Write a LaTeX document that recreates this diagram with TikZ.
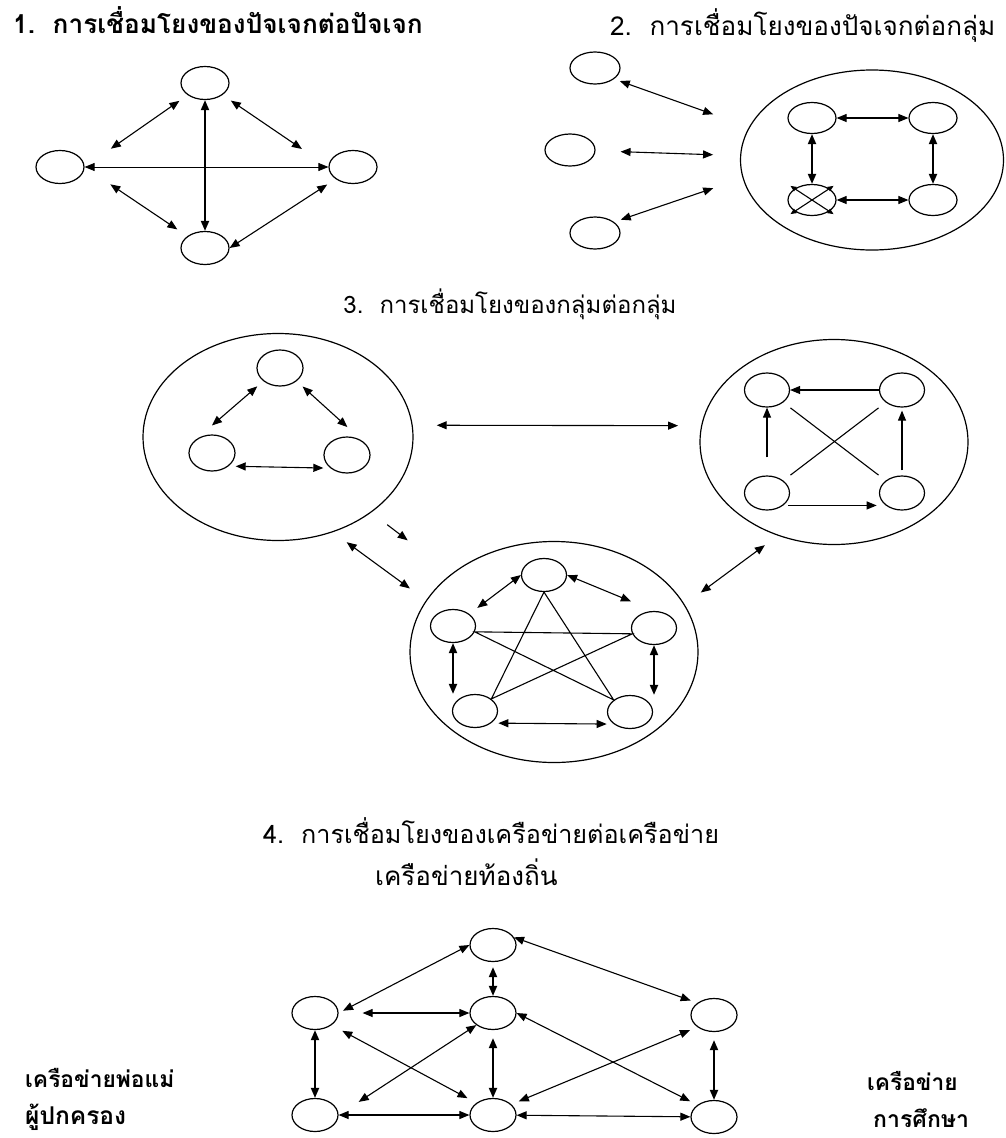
\documentclass[tikz,border=0pt]{standalone}
\usepackage{fontspec}
\newfontfamily\thaifont[Script=Thai]{Loma}
\usepackage{tikz}
\usetikzlibrary{arrows.meta}
\usetikzlibrary{shapes.geometric}

\begin{document}
\begin{tikzpicture}[x=1pt,y=-1pt]
\tikzstyle{every node}=[font=\thaifont\fontsize{24}{28}\selectfont, inner sep=0pt]
\tikzstyle{bubble}=[draw, ellipse, line width=1.2pt, minimum width=46pt, minimum height=33pt]
\tikzstyle{group}=[draw, ellipse, line width=1.2pt]
\tikzstyle{link}=[line width=1.1pt, <->, >={Triangle[length=10pt,width=8pt]}]
\tikzstyle{heavy}=[line width=1.9pt, <->, >={Triangle[length=10pt,width=8pt]}]
\tikzstyle{oneway}=[line width=1.1pt, ->, >={Triangle[length=10pt,width=8pt]}]
\useasboundingbox (0,0) rectangle (1005,1138);

\node[anchor=base west, font=\thaifont\fontsize{26.2}{30}\selectfont] (t1) at (13,33) {\bfseries 1.\ \ การเชื่อมโยงของปัจเจกต่อปัจเจก};
\node[bubble, minimum width=48pt] (p1t) at (205,83) {};
\node[bubble, minimum width=48pt] (p1l) at (60,167) {};
\node[bubble, minimum width=48pt] (p1r) at (353,167) {};
\node[bubble, minimum width=48pt] (p1b) at (205,248) {};
\draw [heavy] (p1t) -- (p1b);
\draw [link, line width=0.8pt] (p1l) -- (p1r);
\draw [link, shorten <=10pt, shorten >=32pt] (p1t) -- (p1l.east);
\draw [link, shorten <=10pt, shorten >=32pt] (p1t) -- (p1r.west);
\draw [link, shorten <=12pt, shorten >=31pt] (p1b) -- (p1l.east);
\draw [link, shorten <=10pt] (p1r.south west) -- (p1b.east);

\node[anchor=base west, font=\thaifont\fontsize{26.1}{30}\selectfont] (t2) at (610,35) {2.\ \ การเชื่อมโยงของปัจเจกต่อกลุ่ม};
\node[bubble, minimum width=50pt, minimum height=32pt] (p2a) at (595,68) {};
\node[bubble, minimum width=50pt, minimum height=32pt] (p2b) at (570,150) {};
\node[bubble, minimum width=50pt, minimum height=32pt] (p2c) at (595,233) {};
\node[group, minimum width=263pt, minimum height=180pt] (p2g) at (872,160) {};
\node[bubble, minimum width=48pt, minimum height=31pt] (p2tl) at (812,118) {};
\node[bubble, minimum width=48pt, minimum height=31pt] (p2tr) at (933,118) {};
\node[bubble, minimum width=48pt, minimum height=31pt] (p2bl) at (812,200) {};
\node[bubble, minimum width=48pt, minimum height=31pt] (p2br) at (933,200) {};
\draw [link, shorten <=6pt, shorten >=38pt] (p2a.-30) -- (p2g.165);
\draw [link, shorten <=25pt, shorten >=27pt] (p2b) -- (p2g);
\draw [link, shorten <=7pt, shorten >=31pt] (p2c.30) -- (p2g.188);
\draw [link] (p2tl) -- (p2tr);
\draw [heavy] (p2tl) -- (p2bl);
\draw [heavy] (p2tr) -- (p2br);
\draw [link] (p2bl) -- (p2br);
\draw [link, >={Triangle[length=6pt,width=5pt]}, shorten <=-5pt, shorten >=-5pt] (p2bl.north west) -- (p2bl.south east);
\draw [link, >={Triangle[length=6pt,width=5pt]}, shorten <=-5pt, shorten >=-5pt] (p2bl.north east) -- (p2bl.south west);

\node[anchor=base] (t3) at (510,313) {3.\ \ การเชื่อมโยงของกลุ่มต่อกลุ่ม};
\node[group, minimum width=270pt, minimum height=207pt] (g1) at (278,437) {};
\node[group, minimum width=268pt, minimum height=205pt] (g2) at (834,442) {};
\node[group, minimum width=288pt, minimum height=221pt] (g3) at (554,652) {};
\node[bubble, minimum height=36pt] (c1) at (280,368) {};
\node[bubble, minimum height=36pt] (c2) at (212,453) {};
\node[bubble, minimum height=36pt] (c3) at (347,455) {};
\draw [link, shorten <=8pt, shorten >=22pt] (c1.south west) -- (c2.north west);
\draw [link, shorten <=8pt, shorten >=22pt] (c1.south east) -- (c3.north east);
\draw [link, shorten <=7pt, shorten >=7pt] (c2.south east) -- (c3.south west);
\node[bubble, minimum width=45pt, minimum height=34pt] (d1) at (767,390) {};
\node[bubble, minimum width=45pt, minimum height=34pt] (d2) at (902,390) {};
\node[bubble, minimum width=45pt, minimum height=34pt] (d3) at (767,493) {};
\node[bubble, minimum width=45pt, minimum height=34pt] (d4) at (902,493) {};
\draw [oneway] (d2) -- (d1);
\draw [oneway, shorten <=18pt] (d3) -- (d1);
\draw [oneway, shorten <=5pt, shorten >=3pt] (d4) -- (d2);
\draw [oneway, shorten <=5pt, shorten >=9pt] (d3.south east) -- (d4.south west);
\draw [line width=1.1pt, shorten <=9pt, shorten >=9pt] (d1) -- (d4);
\draw [line width=1.1pt, shorten <=9pt, shorten >=9pt] (d2) -- (d3);
\node[bubble, minimum width=45pt] (e1) at (544,575) {};
\node[bubble, minimum width=45pt] (e2) at (453,626) {};
\node[bubble, minimum width=45pt] (e3) at (654,628) {};
\node[bubble, minimum width=45pt] (e4) at (475,711) {};
\node[bubble, minimum width=45pt] (e5) at (630,712) {};
\draw [link, shorten >=10pt] (e1.west) -- (e2.north east);
\draw [link, shorten >=25pt] (e1.east) -- (e3.north);
\draw [heavy] (e2) -- (e2 |- e4.north);
\draw [heavy] (e3) -- (e3 |- e5.north);
\draw [link, shorten <=7pt, shorten >=7pt] (e4.south east) -- (e5.south west);
\draw [line width=1.1pt] (e1.south) -- (e4.north east) -- (e3.195) -- (e2.-15) -- (e5.north west) -- cycle;
\draw [link, shorten <=24pt, shorten >=23pt] (g1.5) -- (g2.173);
\draw [link, shorten <=17pt, shorten >=20pt] (g1.-60) -- (g3.158);
\draw [oneway, shorten <=20pt, shorten >=55pt] (g1.-39) -- (g3);
\draw [link, shorten <=16pt, shorten >=20pt] (g2.239) -- (g3.20);

\node[anchor=base west, font=\thaifont\fontsize{25.2}{30}\selectfont] (t4) at (263,843) {4.\ \ การเชื่อมโยงของเครือข่ายต่อเครือข่าย};
\node[anchor=base west, font=\thaifont\fontsize{26}{30}\selectfont] (t4s) at (375,885) {เครือข่ายท้องถิ่น};
\node[anchor=base west, font=\thaifont\fontsize{22.8}{28}\selectfont] (lp1) at (25,1087) {\bfseries เครือข่ายพ่อแม่};
\node[anchor=base west, font=\thaifont\fontsize{24.5}{28}\selectfont] (lp2) at (25,1124) {\bfseries ผู้ปกครอง};
\node[anchor=base west, font=\thaifont\fontsize{22.7}{28}\selectfont] (le1) at (867,1090) {\bfseries เครือข่าย};
\node[anchor=base west, font=\thaifont\fontsize{23}{28}\selectfont] (le2) at (873,1127) {\bfseries การศึกษา};
\node[bubble] (n4t) at (493,945) {};
\node[bubble] (n4m) at (493,1013) {};
\node[bubble] (n4b) at (493,1115) {};
\node[bubble] (n4l) at (315,1013) {};
\node[bubble] (n4bl) at (315,1115) {};
\node[bubble] (n4r) at (714,1015) {};
\node[bubble] (n4br) at (714,1117) {};
\draw [link, shorten >=5pt] (n4t.west) -- (n4l.east);
\draw [heavy, shorten <=5pt] (n4t) -- (n4m);
\draw [link, shorten <=24pt] (n4l) -- (n4m);
\draw [heavy] (n4l) -- (n4bl);
\draw [link, shorten <=12pt, shorten >=10pt] (n4l.south east) -- (n4b.north west);
\draw [link, shorten >=24pt] (n4m.south west) -- (n4bl.east);
\draw [heavy, shorten <=8pt] (n4m) -- (n4b);
\draw [link] (n4bl) -- (n4b);
\draw [link, shorten >=7pt] (n4t.20) -- (n4r.north west);
\draw [link, shorten >=8pt] (n4m.east) -- (n4br.north west);
\draw [link, shorten <=8pt, shorten >=8pt] (n4r.south west) -- (n4b.30);
\draw [heavy, shorten <=8pt] (n4r) -- (n4br);
\draw [link] (n4b) -- (n4br);
\end{tikzpicture}
\end{document}
